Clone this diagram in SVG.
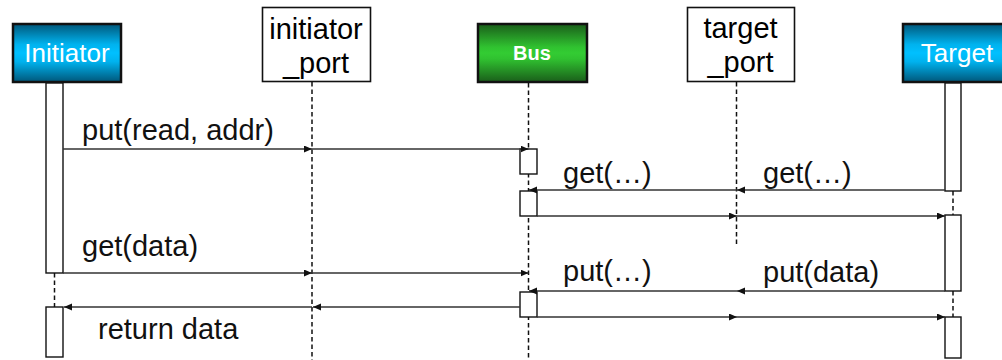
<svg xmlns="http://www.w3.org/2000/svg" width="1002" height="360" viewBox="0 0 1002 360">
  <style>
    text { font-family: "Liberation Sans", Arial, sans-serif; }
    .hdr { stroke: #111; stroke-width: 2.5; }
    .port { fill: #fff; stroke: #111; stroke-width: 1.6; }
    .hdr-label { font-size: 26px; fill: #fff; text-anchor: middle; }
    .bus-label { font-size: 20px; font-weight: bold; fill: #fff; text-anchor: middle; }
    .port-label { font-size: 29px; fill: #000; text-anchor: middle; }
    .life { stroke: #111; stroke-width: 1.5; stroke-dasharray: 4.5 3; fill: none; }
    .bar { fill: #fff; stroke: #111; stroke-width: 1.4; }
    .msg { stroke: #333; stroke-width: 1.4; fill: none; marker-end: url(#head); }
    .msg-label { font-size: 29px; fill: #111; }
  </style>
  <defs>
    <linearGradient id="blueFill" x1="0" y1="0" x2="0" y2="1">
      <stop offset="0" stop-color="#00577a"/>
      <stop offset="0.35" stop-color="#00b2ee"/>
      <stop offset="0.5" stop-color="#00c0ff"/>
      <stop offset="0.65" stop-color="#00b2ee"/>
      <stop offset="1" stop-color="#00577a"/>
    </linearGradient>
    <linearGradient id="greenFill" x1="0" y1="0" x2="0" y2="1">
      <stop offset="0" stop-color="#1a5e1a"/>
      <stop offset="0.4" stop-color="#30c230"/>
      <stop offset="0.5" stop-color="#33cc33"/>
      <stop offset="0.6" stop-color="#30c230"/>
      <stop offset="1" stop-color="#1a5e1a"/>
    </linearGradient>
    <marker id="head" markerUnits="userSpaceOnUse" markerWidth="9" markerHeight="8" refX="8" refY="3.5" orient="auto">
      <path d="M0,0 L8,3.5 L0,7 Z" fill="#111"/>
    </marker>
  </defs>

  <rect width="1002" height="360" fill="#fff"/>

  <!-- Initiator -->
  <g id="initiator">
    <line class="life" x1="54.5" y1="273" x2="54.5" y2="307"/>
    <rect class="hdr" x="13" y="24" width="108" height="58" fill="url(#blueFill)"/>
    <text class="hdr-label" x="67" y="62">Initiator</text>
    <rect class="bar" x="46" y="83" width="17" height="190"/>
    <rect class="bar" x="46" y="307" width="17" height="50"/>
  </g>

  <!-- initiator_port -->
  <g id="initiator_port">
    <line class="life" x1="312" y1="82" x2="312" y2="360"/>
    <rect class="port" x="262.5" y="7.5" width="108" height="74"/>
    <text class="port-label" x="316" y="39">initiator</text>
    <text class="port-label" x="316" y="73">_port</text>
  </g>

  <!-- Bus -->
  <g id="bus">
    <line class="life" x1="528.5" y1="83" x2="528.5" y2="360"/>
    <rect class="hdr" x="478" y="24" width="109" height="58" fill="url(#greenFill)"/>
    <text class="bus-label" x="532" y="60">Bus</text>
    <rect class="bar" x="520" y="149" width="17" height="25"/>
    <rect class="bar" x="520" y="191" width="17" height="25"/>
    <rect class="bar" x="520" y="292" width="17" height="25"/>
  </g>

  <!-- target_port -->
  <g id="target_port">
    <line class="life" x1="736.5" y1="82" x2="736.5" y2="247"/>
    <rect class="port" x="687.5" y="7.5" width="107" height="74"/>
    <text class="port-label" x="740.5" y="38">target</text>
    <text class="port-label" x="740.5" y="72">_port</text>
  </g>

  <!-- Target -->
  <g id="target">
    <line class="life" x1="953" y1="191" x2="953" y2="215"/>
    <line class="life" x1="953" y1="291" x2="953" y2="317"/>
    <rect class="hdr" x="903" y="24" width="110" height="58" fill="url(#blueFill)"/>
    <text class="hdr-label" x="957" y="62">Target</text>
    <rect class="bar" x="945" y="83" width="16" height="108"/>
    <rect class="bar" x="945" y="215" width="16" height="76"/>
    <rect class="bar" x="945" y="317" width="16" height="41"/>
  </g>

  <!-- Messages -->
  <g id="connectors">
    <!-- read request -->
    <line class="msg" x1="63" y1="149" x2="312" y2="149"/>
    <line class="msg" x1="312" y1="149" x2="528.5" y2="149"/>
    <text class="msg-label" x="82" y="140">put(read, addr)</text>

    <!-- target pulls request -->
    <line class="msg" x1="945" y1="190" x2="737" y2="190"/>
    <line class="msg" x1="737" y1="190" x2="529" y2="190"/>
    <text class="msg-label" x="563" y="183">get(…)</text>
    <text class="msg-label" x="763" y="183">get(…)</text>

    <!-- request delivered -->
    <line class="msg" x1="537" y1="216" x2="737" y2="216"/>
    <line class="msg" x1="737" y1="216" x2="945" y2="216"/>

    <!-- initiator waits for data -->
    <line class="msg" x1="63" y1="273" x2="312" y2="273"/>
    <line class="msg" x1="312" y1="273" x2="528.5" y2="273"/>
    <text class="msg-label" x="82" y="256">get(data)</text>

    <!-- target sends data -->
    <line class="msg" x1="945" y1="291" x2="737" y2="291"/>
    <line class="msg" x1="737" y1="291" x2="529" y2="291"/>
    <text class="msg-label" x="563" y="281">put(…)</text>
    <text class="msg-label" x="763" y="282">put(data)</text>

    <!-- data returned -->
    <line class="msg" x1="520" y1="307" x2="313" y2="307"/>
    <line class="msg" x1="312" y1="307" x2="64" y2="307"/>
    <text class="msg-label" x="98" y="339">return data</text>

    <!-- acknowledge -->
    <line class="msg" x1="537" y1="317" x2="737" y2="317"/>
    <line class="msg" x1="737" y1="317" x2="945" y2="317"/>
  </g>
</svg>
